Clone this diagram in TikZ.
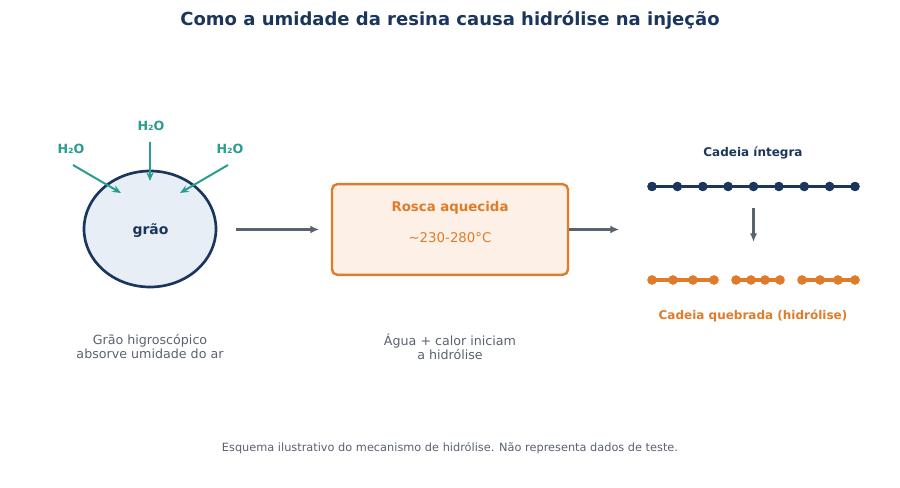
\documentclass[tikz,border=0pt]{standalone}
\usepackage{fontspec}
\setmainfont{DejaVu Sans}
\usepackage{xcolor}
\usetikzlibrary{arrows.meta, positioning, shapes.geometric}

\definecolor{navy}{HTML}{1B365D}
\definecolor{teal}{HTML}{2A9D8F}
\definecolor{laranja}{HTML}{E07B2A}
\definecolor{cinza}{HTML}{5A6270}
\definecolor{graofill}{HTML}{E8EEF5}
\definecolor{roscafill}{HTML}{FDF0E6}

\begin{document}
\begin{tikzpicture}[
    x=0.75pt, y=-0.75pt,
    agua/.style={text=teal, font=\bfseries\fontsize{9.5}{11}\selectfont},
    seta/.style={-{Latex[length=6.5pt,width=6pt]}, line width=2.1pt, cinza},
    setaagua/.style={-{Stealth[length=6.5pt,width=5.5pt]}, line width=1.5pt, teal},
    legenda/.style={text=cinza, align=center, font=\fontsize{9.5}{10.5}\selectfont},
    elo/.style={circle, fill=#1, inner sep=0pt, minimum size=7pt}
]
\useasboundingbox (0,0) rectangle (900,488);

\node[text=navy, font=\bfseries\fontsize{13.5}{16}\selectfont] (titulo) at (450,20) {Como a umidade da resina causa hidrólise na injeção};

% grão de resina e água
\node[ellipse, draw=navy, line width=2pt, fill=graofill, inner sep=0pt,
      minimum width=99pt, minimum height=87pt, text=navy] (graoA) at (150,229) {};
\node[text=navy, font=\bfseries\fontsize{10.5}{12}\selectfont] (graoT) at (150.5,230.5) {grão};
\node[agua] (h2oE) at (71,149) {H₂O};
\node[agua] (h2oC) at (151,126) {H₂O};
\node[agua] (h2oD) at (230,149) {H₂O};
\coordinate (tipE) at (121,193);
\coordinate (tipC) at (150,181);
\coordinate (tipD) at (180,193);
\draw[setaagua] (73,165) -- (tipE);
\draw[setaagua] (150,142) -- (tipC);
\draw[setaagua] (228,165) -- (tipD);

% rosca
\node[draw=laranja, line width=1.8pt, fill=roscafill, rounded corners=4pt,
      minimum width=177pt, minimum height=68pt] (rosca) at (450,229.5) {};
\node[text=laranja, font=\bfseries\fontsize{10}{12}\selectfont] (roscaT) at (450,207.5) {Rosca aquecida};
\node[text=laranja, font=\fontsize{10}{12}\selectfont] (roscaC) at (450,238) {\textasciitilde230-280°C};

\coordinate (s1) at (236,229.5);
\coordinate (s2) at (319,229.5);
\coordinate (s3) at (619,229.5);
\draw[seta] (s1) -- (s2);
\draw[seta] (rosca.east) -- (s3);

% cadeias
\node[text=navy, font=\bfseries\fontsize{9}{11}\selectfont] (integraT) at (753,153) {Cadeia íntegra};
\foreach \i [count=\n] in {652,677.4,702.8,728.1,753.5,778.9,804.3,829.6,855} {
    \node[elo=navy] (a\n) at (\i,186.5) {};
}
\draw[navy, line width=2.3pt] (a1.center) -- (a9.center);
\foreach \n in {1,...,9} { \node[elo=navy] at (a\n) {}; }

\coordinate (iniSeta) at (753.5,208);
\coordinate (fimSeta) at (753.5,242);
\draw[-{Latex[length=6.5pt,width=5.5pt]}, line width=1.8pt, cinza] (iniSeta) -- (fimSeta);

\foreach \i [count=\n] in {652,673,693,714,736,751,765,780,802,820,838,855} {
    \node[elo=laranja] (b\n) at (\i,280) {};
}
\draw[laranja, line width=2.3pt] (b1.center) -- (b4.center) (b5.center) -- (b8.center) (b9.center) -- (b12.center);
\foreach \n in {1,...,12} { \node[elo=laranja] at (b\n) {}; }
\node[text=laranja, font=\bfseries\fontsize{9}{11}\selectfont] (quebradaT) at (753,316) {Cadeia quebrada (hidrólise)};

% legendas
\node[legenda] (legA) at (150,347) {Grão higroscópico\\absorve umidade do ar};
\node[legenda] (legB) at (450,347) {Água + calor iniciam\\a hidrólise};
\node[text=cinza, font=\fontsize{8.5}{10}\selectfont] (nota) at (450,448) {Esquema ilustrativo do mecanismo de hidrólise. Não representa dados de teste.};
\end{tikzpicture}
\end{document}
